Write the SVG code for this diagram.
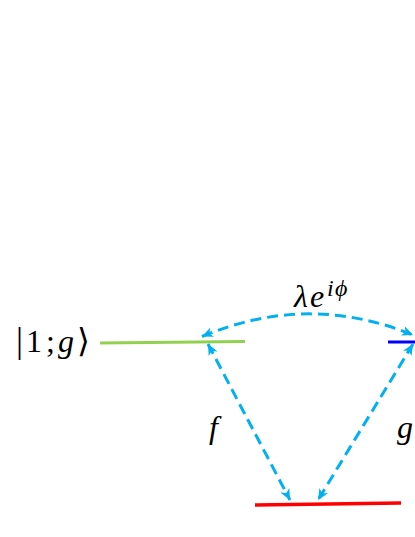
<svg xmlns="http://www.w3.org/2000/svg" width="415" height="537" viewBox="0 0 415 537">
<style>
.lvl{fill:none;stroke-linecap:butt}
.conn{fill:none;stroke:#00B0F0;stroke-width:3;stroke-dasharray:11,6;marker-start:url(#ah);marker-end:url(#ah)}
.math{font-family:"Liberation Serif","DejaVu Serif",serif;font-size:32px;fill:#000}
.it{font-style:italic}
</style>
<defs>
<marker id="ah" markerUnits="userSpaceOnUse" markerWidth="12" markerHeight="10" refX="11" refY="5" orient="auto-start-reverse" viewBox="0 0 12 10">
<path d="M0,0 L11,5 L0,10 L3,5 z" fill="#00B0F0"/>
</marker>
</defs>
<rect width="415" height="537" fill="#fff"/>
<g id="level-1g">
<line class="lvl" x1="100" y1="343" x2="245" y2="341.5" stroke="#92D050" stroke-width="3"/>
<text class="math" y="352"><tspan x="16" font-size="35">|</tspan><tspan x="26">1</tspan><tspan x="46">;</tspan><tspan class="it" x="58">g</tspan><tspan x="77" font-size="33">⟩</tspan></text>
</g>
<g id="level-blue">
<line class="lvl" x1="388" y1="342" x2="415" y2="342" stroke="#0000FF" stroke-width="3"/>
</g>
<g id="level-red">
<line class="lvl" x1="255" y1="505" x2="401" y2="503" stroke="#FF0000" stroke-width="3.5"/>
</g>
<g id="connectors">
<path class="conn" d="M202,336.5 Q308,292 413,335"/>
<path class="conn" d="M208,344 L290,500"/>
<path class="conn" d="M413,344 L318,500"/>
</g>
<g id="labels">
<text class="math it" y="307"><tspan x="294">λ</tspan><tspan x="310">e</tspan><tspan x="327" y="296" font-size="24">i</tspan><tspan x="335" y="296" font-size="24">ϕ</tspan></text>
<text class="math it" x="209" y="438">f</text>
<text class="math it" x="397" y="438">g</text>
</g>
</svg>
